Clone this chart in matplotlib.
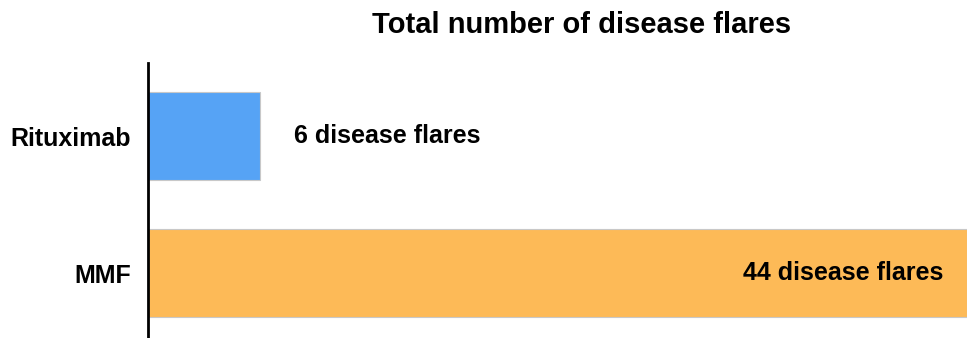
import matplotlib
matplotlib.use("Agg")
import matplotlib.pyplot as plt

categories = ["Rituximab", "MMF"]
values = [6, 44]
value_labels = ["6 disease flares", "44 disease flares"]
colors = ["#56A3F5", "#FDBA57"]
title = "Total number of disease flares"

FONT = ["Liberation Sans", "DejaVu Sans"]

fig = plt.figure(figsize=(9.7, 3.38), dpi=100)
W, H = 970, 338
ax = fig.add_axes([148 / W, 0, (967 - 148) / W, (338 - 63) / H])

y = list(range(len(categories)))
ax.barh(y, values, height=0.64, color=colors, edgecolor="#c8c8c8", linewidth=0.8)
ax.set_xlim(0, max(values))
ax.set_ylim(1.474, -0.533)

ax.set_yticks(y)
ax.set_yticklabels(categories, fontfamily=FONT, fontweight="bold", fontsize=18)
ax.tick_params(axis="y", length=0, pad=12)
ax.set_xticks([])
for s in ["top", "right", "bottom"]:
    ax.spines[s].set_visible(False)
ax.spines["left"].set_linewidth(2)
ax.spines["left"].set_color("black")

# value labels
ax.annotate(value_labels[0], xy=(values[0], y[0]), xytext=(24.5, 0), textcoords="offset points",
            ha="left", va="center", fontfamily=FONT, fontweight="bold", fontsize=18)
ax.annotate(value_labels[1], xy=(values[1], y[1]), xytext=(-17, 0), textcoords="offset points",
            ha="right", va="center", fontfamily=FONT, fontweight="bold", fontsize=18)

fig.text(582 / W, 1 - 25 / H, title, ha="center", va="center",
         fontfamily=FONT, fontweight="bold", fontsize=21)

fig.savefig("out.png", dpi=100)
